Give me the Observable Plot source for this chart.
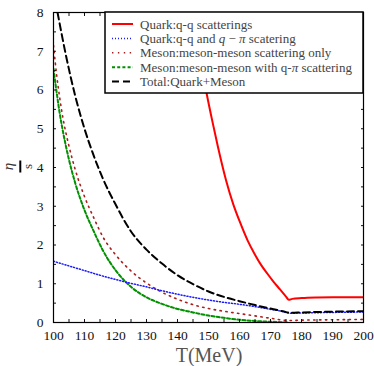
<!DOCTYPE html>
<html>
<head>
<meta charset="utf-8">
<script src="https://cdn.jsdelivr.net/npm/d3@7"></script>
<script src="https://cdn.jsdelivr.net/npm/@observablehq/plot@0.6"></script>
<style>
  html, body { margin: 0; padding: 0; background: #fff; }
  #chart svg { display: block; }
</style>
</head>
<body>
<div id="chart"></div>
<script>
// ---- data ----
const tQuark   = [144, 146, 148, 149.4, 151.2, 153, 155.7, 158, 160, 162.6, 165, 167, 169, 171, 173, 175, 175.9, 177, 180, 185, 190, 195, 200];
const etaQuark = [8.4, 7.4, 6.5, 5.91, 5.21, 4.55, 3.66, 3.05, 2.62, 2.12, 1.75, 1.48, 1.26, 1.05, 0.86, 0.67, 0.585, 0.61, 0.63, 0.645, 0.65, 0.65, 0.65];

const tQuarkPi   = [100, 105, 110, 115, 120, 125, 130, 135, 140, 145, 150, 155, 160, 165, 170, 173, 176.5, 180, 190, 200];
const etaQuarkPi = [1.58, 1.46, 1.34, 1.22, 1.11, 1.01, 0.92, 0.82, 0.73, 0.65, 0.58, 0.52, 0.47, 0.41, 0.34, 0.30, 0.24, 0.245, 0.26, 0.27];

const tMeson   = [100, 101, 102, 103, 105, 107, 110, 113, 116, 120, 125, 130, 135, 140, 145, 150, 155, 160, 165, 170, 176, 180, 190, 200];
const etaMeson = [7.15, 6.4, 5.8, 5.3, 4.55, 3.95, 3.25, 2.7, 2.2, 1.75, 1.33, 1.02, 0.78, 0.60, 0.46, 0.36, 0.29, 0.23, 0.17, 0.11, 0.05, 0.06, 0.07, 0.08];

const tMesonPi   = [100, 101, 102, 103, 105, 107, 110, 113, 116, 120, 125, 130, 135, 140, 145, 150, 155, 160, 165, 170, 176];
const etaMesonPi = [6.55, 5.95, 5.4, 4.95, 4.2, 3.6, 2.9, 2.35, 1.85, 1.35, 0.92, 0.65, 0.48, 0.35, 0.26, 0.18, 0.12, 0.07, 0.04, 0.02, 0.0];

const tTotal   = [101.3, 104, 107, 110, 113, 116, 120, 125, 130, 135, 140, 145, 150, 155, 160, 165, 170, 174, 176.5, 180, 190, 200];
const etaTotal = [8.0, 6.9, 5.85, 5.0, 4.3, 3.7, 3.05, 2.35, 1.88, 1.52, 1.22, 0.99, 0.80, 0.66, 0.55, 0.45, 0.36, 0.29, 0.25, 0.26, 0.28, 0.29];

const xTicks = [100, 110, 120, 130, 140, 150, 160, 170, 180, 190, 200];
const yTicks = [0, 1, 2, 3, 4, 5, 6, 7, 8];
const xMinorTicks = d3.range(100, 201, 5);
const yMinorTicks = d3.range(0, 8.01, 0.5);

const legendLabels = [
  "Quark:q-q scatterings",
  "Quark:q-q and q \u2212 \u03c0 scatering",
  "Meson:meson-meson scattering only",
  "Meson:meson-meson with q-\u03c0 scattering",
  "Total:Quark+Meson"
];

// ---- styles ----
const serif = "Liberation Serif, Times New Roman, serif";
const styles = [
  {stroke: "#ff0000", strokeWidth: 2, strokeDasharray: null},
  {stroke: "#1a1aff", strokeWidth: 1.5, strokeDasharray: "1,2"},
  {stroke: "#a8201e", strokeWidth: 1.6, strokeDasharray: "1.4,4.5"},
  {stroke: "#009000", strokeWidth: 2, strokeDasharray: "3,2.2"},
  {stroke: "#000000", strokeWidth: 2, strokeDasharray: "7,4"}
];

const series = (ts, vs) => ts.map((t, i) => ({T: t, v: vs[i]}));
const datasets = [
  series(tQuark, etaQuark),
  series(tQuarkPi, etaQuarkPi),
  series(tMeson, etaMeson),
  series(tMesonPi, etaMesonPi),
  series(tTotal, etaTotal)
];
const drawOrder = [2, 3, 1, 4, 0];

const lineMarks = drawOrder.map(i => Plot.line(datasets[i], {
  x: "T", y: "v", curve: "monotone-x", clip: true,
  stroke: styles[i].stroke, strokeWidth: styles[i].strokeWidth,
  strokeDasharray: styles[i].strokeDasharray
}));

const svg = Plot.plot({
  width: 374,
  height: 366,
  marginLeft: 53,
  marginRight: 11,
  marginTop: 12,
  marginBottom: 44,
  style: {fontFamily: serif, fontSize: "13.5px", background: "#fff", color: "#111"},
  x: {domain: [100, 200]},
  y: {domain: [0, 8]},
  marks: [
    ...lineMarks,
    Plot.axisX({anchor: "bottom", ticks: xMinorTicks, tickSize: -3, text: null, label: null}),
    Plot.axisX({anchor: "top", ticks: xMinorTicks, tickSize: -3, text: null, label: null}),
    Plot.axisY({anchor: "left", ticks: yMinorTicks, tickSize: -3, text: null, label: null}),
    Plot.axisY({anchor: "right", ticks: yMinorTicks, tickSize: -3, text: null, label: null}),
    Plot.axisX({anchor: "bottom", ticks: xTicks, tickSize: 0, tickPadding: 8, tickFormat: d => String(d), label: null}),
    Plot.axisY({anchor: "left", ticks: yTicks, tickSize: 0, tickPadding: 10, tickFormat: d => String(d), label: null}),
    Plot.frame({stroke: "#000", strokeWidth: 1.2})
  ]
});

const root = d3.select(svg);

// x label
root.append("text")
  .attr("x", 209).attr("y", 362)
  .attr("text-anchor", "middle")
  .attr("font-family", serif)
  .attr("font-size", 20)
  .attr("fill", "#555")
  .text("T(MeV)");

// y label: eta over s, rotated
const yl = root.append("g").attr("transform", "translate(20.3,166.5) rotate(-90)");
yl.append("text").attr("x", 0).attr("y", -7).attr("text-anchor", "middle")
  .attr("font-family", serif).attr("font-style", "italic")
  .attr("font-size", 15).attr("fill", "#333").text("\u03b7");
yl.append("line").attr("x1", -6).attr("x2", 6).attr("y1", 0).attr("y2", 0)
  .attr("stroke", "#000").attr("stroke-width", 2);
yl.append("text").attr("x", 0).attr("y", 11.5).attr("text-anchor", "middle")
  .attr("font-family", serif)
  .attr("font-size", 13).attr("fill", "#333").text("s");

// legend
const lg = root.append("g");
lg.append("rect").attr("x", 105).attr("y", 12).attr("width", 258).attr("height", 81)
  .attr("fill", "#fff").attr("stroke", "#000").attr("stroke-width", 1.5);
legendLabels.forEach((lab, i) => {
  const yy = 24 + i * 14.4;
  const st = styles[i];
  const ln = lg.append("line").attr("x1", 112).attr("x2", 133).attr("y1", yy).attr("y2", yy)
    .attr("stroke", st.stroke).attr("stroke-width", st.strokeWidth);
  if (st.strokeDasharray) ln.attr("stroke-dasharray", st.strokeDasharray);
  const t = lg.append("text").attr("x", 140).attr("y", yy + 4.5)
    .attr("text-anchor", "start")
    .attr("font-family", serif).attr("font-size", 13).attr("fill", "#444");
  if (i === 1) {
    t.append("tspan").text("Quark:q-q and ");
    t.append("tspan").attr("font-style", "italic").text("q");
    t.append("tspan").text(" \u2212 ");
    t.append("tspan").attr("font-style", "italic").text("\u03c0");
    t.append("tspan").text(" scatering");
  } else if (i === 3) {
    t.append("tspan").text("Meson:meson-meson with q-");
    t.append("tspan").attr("font-style", "italic").text("\u03c0");
    t.append("tspan").text(" scattering");
  } else {
    t.text(lab);
  }
});

document.getElementById("chart").appendChild(svg);
</script>
</body>
</html>
